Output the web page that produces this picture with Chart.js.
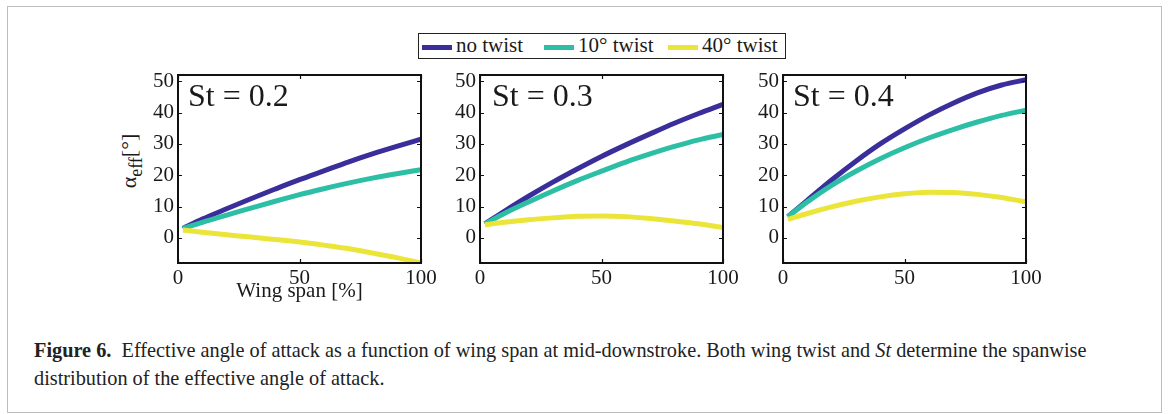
<!DOCTYPE html>
<html>
<head>
<meta charset="utf-8">
<script src="https://cdn.jsdelivr.net/npm/chart.js@4"></script>
<style>
  body { margin: 0; background: #fff; width: 1168px; height: 414px; overflow: hidden; position: relative; font-family: "Liberation Serif", "Times New Roman", serif; color: #1a1a1a; }
  .frame { position: absolute; left: 7px; top: 6px; width: 1153px; height: 405px; border: 1.5px solid #bdbdbd; }
  canvas.panel { position: absolute; }
  .st { position: absolute; font-size: 32px; line-height: 32px; white-space: nowrap; }
  .ylab { position: absolute; left: 131px; top: 161px; font-size: 22px; white-space: nowrap; transform: translate(-50%, -50%) rotate(-90deg); }
  .ylab sub { font-size: 18px; vertical-align: -6px; }
  .legend { position: absolute; left: 418px; top: 33px; width: 366px; height: 24px; border: 1.5px solid #222; }
  .sw { position: absolute; width: 30px; height: 5px; top: 11px; }
  .lt { position: absolute; top: 1px; font-size: 21px; line-height: 21px; white-space: nowrap; }
  .caption { position: absolute; left: 34px; top: 336px; font-size: 20.3px; line-height: 28px; white-space: nowrap; color: #222; }
</style>
</head>
<body>
<div class="frame"></div>

<div class="legend" id="legend"></div>
<div class="ylab">&alpha;<sub>eff</sub>[&deg;]</div>

<canvas class="panel" id="p0" width="333" height="249" style="left:118px;top:55px;width:333px;height:249px"></canvas>
<canvas class="panel" id="p1" width="333" height="249" style="left:420px;top:55px;width:333px;height:249px"></canvas>
<canvas class="panel" id="p2" width="333" height="249" style="left:723px;top:55px;width:333px;height:249px"></canvas>

<div class="caption"><b>Figure 6.</b>&nbsp; Effective angle of attack as a function of wing span at mid-downstroke. Both wing twist and <i>St</i> determine the spanwise<br>distribution of the effective angle of attack.</div>

<script>
  // wing span positions [%]
  const span = [2, 10, 20, 30, 40, 50, 60, 70, 80, 90, 100];

  const seriesNames = ['no twist', '10° twist', '40° twist'];
  const seriesColors = ['#3a2f9a', '#2dbfa5', '#ebe53a'];
  const panelTitles = ['St = 0.2', 'St = 0.3', 'St = 0.4'];

  // St = 0.2
  const st02NoTwist = [3, 6, 9.3, 12.5, 15.6, 18.6, 21.4, 24.2, 26.8, 29.2, 31.5];
  const st02Twist10 = [3, 5, 7.3, 9.5, 11.7, 13.8, 15.7, 17.5, 19.1, 20.5, 21.8];
  const st02Twist40 = [2.5, 1.8, 1, 0.3, -0.5, -1.3, -2.3, -3.4, -4.8, -6.3, -8];
  // St = 0.3
  const st03NoTwist = [4.5, 8.5, 13.3, 17.8, 22, 26, 29.7, 33.2, 36.6, 39.7, 42.6];
  const st03Twist10 = [4.5, 7.8, 11.5, 15, 18.3, 21.3, 24.2, 26.8, 29.2, 31.3, 33];
  const st03Twist40 = [4.2, 5, 5.8, 6.4, 6.9, 7, 6.8, 6.2, 5.4, 4.5, 3.3];
  // St = 0.4
  const st04NoTwist = [6.8, 12, 18.5, 24.5, 30, 34.8, 39.2, 43, 46.3, 48.8, 50.5];
  const st04Twist10 = [6.8, 11.5, 16.8, 21.3, 25.3, 28.8, 31.9, 34.6, 37, 39.1, 40.8];
  const st04Twist40 = [5.9, 7.8, 9.9, 11.7, 13.1, 14.1, 14.6, 14.5, 13.9, 12.9, 11.5];

  const panels = [
    [st02NoTwist, st02Twist10, st02Twist40],
    [st03NoTwist, st03Twist10, st03Twist40],
    [st04NoTwist, st04Twist10, st04Twist40]
  ];

  const xTicks = [0, 50, 100];
  const yTicks = [0, 10, 20, 30, 40, 50];
  const yMin = -8, yMax = 52;

  // legend (html)
  const legendEl = document.getElementById('legend');
  const swLeft = [3, 125, 249];
  const txtLeft = [37, 159, 283];
  seriesNames.forEach((name, i) => {
    const sw = document.createElement('div');
    sw.className = 'sw';
    sw.style.left = swLeft[i] + 'px';
    sw.style.background = seriesColors[i];
    legendEl.appendChild(sw);
    const t = document.createElement('div');
    t.className = 'lt';
    t.style.left = txtLeft[i] + 'px';
    t.textContent = name;
    legendEl.appendChild(t);
  });

  // matlab style box with inward ticks
  const boxPlugin = {
    id: 'box',
    afterDraw(chart) {
      const { ctx, chartArea: a, scales } = chart;
      const len = 4;
      ctx.save();
      ctx.strokeStyle = '#111';
      ctx.lineWidth = 1.2;
      ctx.beginPath();
      yTicks.forEach(v => {
        const y = Math.round(scales.y.getPixelForValue(v)) + 0.5;
        ctx.moveTo(a.left, y); ctx.lineTo(a.left + len, y);
        ctx.moveTo(a.right, y); ctx.lineTo(a.right - len, y);
      });
      xTicks.forEach(v => {
        const x = Math.round(scales.x.getPixelForValue(v)) + 0.5;
        ctx.moveTo(x, a.bottom); ctx.lineTo(x, a.bottom - len);
        ctx.moveTo(x, a.top); ctx.lineTo(x, a.top + len);
      });
      ctx.stroke();
      ctx.lineWidth = 2;
      ctx.strokeRect(a.left, a.top, a.right - a.left, a.bottom - a.top);
      ctx.restore();
    }
  };

  const tickFont = { family: '"Liberation Serif", "Times New Roman", serif', size: 21 };

  panels.forEach((series, p) => {
    const ctx = document.getElementById('p' + p).getContext('2d');
    new Chart(ctx, {
      type: 'line',
      data: {
        datasets: series.map((vals, i) => ({
          label: seriesNames[i],
          data: span.map((x, k) => ({ x: x, y: vals[k] })),
          borderColor: seriesColors[i],
          borderWidth: 5,
          pointRadius: 0,
          fill: false,
          cubicInterpolationMode: 'monotone'
        })).reverse()
      },
      options: {
        responsive: false,
        animation: false,
        events: [],
        layout: { padding: { top: 20, right: 30, bottom: 0, left: 0 } },
        plugins: { legend: { display: false }, tooltip: { enabled: false }, title: { display: false } },
        scales: {
          x: {
            type: 'linear',
            min: 0, max: 100,
            afterBuildTicks: s => { s.ticks = xTicks.map(v => ({ value: v })); },
            afterFit: s => { s.height = 41; },
            grid: { display: false, drawTicks: false },
            border: { display: false },
            ticks: { font: tickFont, color: '#1a1a1a', padding: 3, maxRotation: 0 },
            title: {
              display: p === 0,
              text: 'Wing span [%]',
              font: tickFont,
              color: '#1a1a1a',
              padding: 0
            }
          },
          y: {
            min: yMin, max: yMax,
            afterBuildTicks: s => { s.ticks = yTicks.map(v => ({ value: v })); },
            afterFit: s => { s.width = 60; },
            grid: { display: false, drawTicks: false },
            border: { display: false },
            ticks: { font: tickFont, color: '#1a1a1a', padding: 4 }
          }
        }
      },
      plugins: [boxPlugin]
    });

    const st = document.createElement('div');
    st.className = 'st';
    st.textContent = panelTitles[p];
    const plotLeft = [178, 480, 783][p];
    st.style.left = (plotLeft + (p === 1 ? 12 : 10)) + 'px';
    st.style.top = '79px';
    document.body.appendChild(st);
  });
</script>
</body>
</html>
